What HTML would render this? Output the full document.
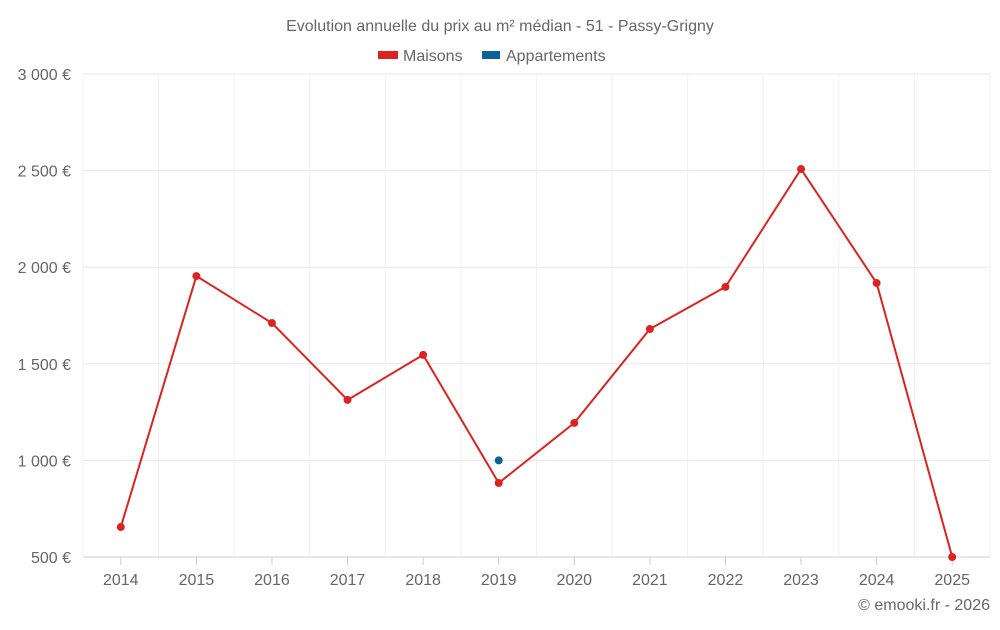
<!DOCTYPE html>
<html><head><meta charset="utf-8">
<style>
body{margin:0;background:#fff;font-family:"Liberation Sans",sans-serif;}
svg text{font-family:"Liberation Sans",sans-serif;fill:#666;}
</style></head>
<body>
<svg id="chart" width="1000" height="625">
<text x="500" y="31" text-anchor="middle" font-size="16">Evolution annuelle du prix au m² médian - 51 - Passy-Grigny</text>
<g>
<g><rect x="378" y="51" width="20" height="8" fill="#dd2222"/><text x="403" y="61" font-size="16">Maisons</text></g>
<g><rect x="482" y="51" width="18" height="8" fill="#0d6199"/><text x="506" y="61" font-size="16">Appartements</text></g>
</g>
<g id="grid"></g><g id="axes"></g><g id="series"></g>
<text x="990" y="610" text-anchor="end" font-size="16">© emooki.fr - 2026</text>
</svg>
<script>
const categories=["2014","2015","2016","2017","2018","2019","2020","2021","2022","2023","2024","2025"];
const maisons=[655,1954,1711,1313,1546,883,1194,1680,1898,2508,1918,500];
const appartements=[null,null,null,null,null,1000,null,null,null,null,null,null];
const yTicks=[500,1000,1500,2000,2500,3000];
const yTickLabels=["500 €","1 000 €","1 500 €","2 000 €","2 500 €","3 000 €"];
const NS="http://www.w3.org/2000/svg";
const L=83,R=990,T=74,B=557,yMin=500,yMax=3000;
const band=(R-L)/categories.length;
const xS=i=>L+band*(i+0.5);
const yS=v=>B-(v-yMin)/(yMax-yMin)*(B-T);
function mk(tag,attrs,parent){const e=document.createElementNS(NS,tag);for(const k in attrs)e.setAttribute(k,attrs[k]);parent.appendChild(e);return e;}
const grid=document.getElementById('grid'),axes=document.getElementById('axes'),series=document.getElementById('series');
yTicks.forEach((t,i)=>{
 const ln=mk('line',{x1:L,x2:R,y1:yS(t),y2:yS(t),stroke:i==0?'#ccc':'#e8e8e8'},grid);
 
 
 const tx=mk('text',{x:71,y:yS(t)+6,'text-anchor':'end','font-size':16},axes);
 tx.textContent=yTickLabels[i];
 
 
});
for(let i=0;i<=categories.length;i++){
 const ln=mk('line',{x1:L+band*i,x2:L+band*i,y1:T,y2:B,stroke:'#f0f0f0'},grid);
 
 
}
categories.forEach((c,i)=>{
 const tk=mk('line',{x1:xS(i),x2:xS(i),y1:B,y2:B+8,stroke:'#ccc'},axes);
 
 
 const tx=mk('text',{x:xS(i),y:B+28,'text-anchor':'middle','font-size':16},axes);
 tx.textContent=c;
 
 
});
const pts=maisons.map((v,i)=>v==null?null:[xS(i),yS(v)]).filter(p=>p);
const pl=mk('polyline',{points:pts.map(p=>p.join(',')).join(' '),fill:'none',stroke:'#dd2222','stroke-width':2},series);


maisons.forEach((v,i)=>{if(v==null)return;
 const c=mk('circle',{cx:xS(i),cy:yS(v),r:4,fill:'#dd2222'},series);
 
 
});
appartements.forEach((v,i)=>{if(v==null)return;
 const c=mk('circle',{cx:xS(i),cy:yS(v),r:4,fill:'#0d6199'},series);
 
 
});
</script>
</body></html>
